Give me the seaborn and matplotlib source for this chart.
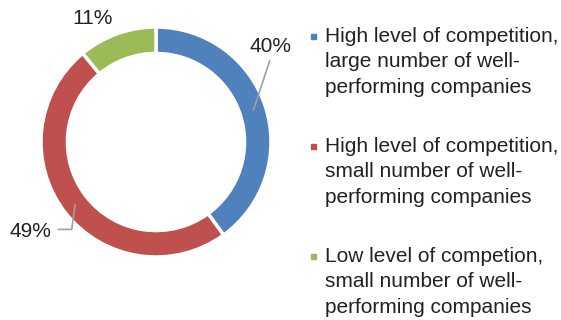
import numpy as np
import matplotlib
matplotlib.use("Agg")
import matplotlib.pyplot as plt
import seaborn as sns

# -------------------------------------------------------------------
# Data
# -------------------------------------------------------------------
categories = [
    "High level of competition,\nlarge number of well-\nperforming companies",
    "High level of competition,\nsmall number of well-\nperforming companies",
    "Low level of competion,\nsmall number of well-\nperforming companies",
]
shares = [40, 49, 11]
colors = ["#4F81BD", "#C0504D", "#9BBB59"]

sns.set_theme(style="white")
plt.rcParams['font.family'] = ['Liberation Sans', 'DejaVu Sans']

fig = plt.figure(figsize=(5.61, 3.2), dpi=100)
ax = fig.add_axes([41 / 561, 63 / 320, 230 / 561, 230 / 320])

wedges, _ = ax.pie(shares, colors=colors, startangle=90, counterclock=False,
                   radius=1.0, wedgeprops=dict(width=0.23, edgecolor="white", linewidth=2.5))
ax.set_xlim(-1, 1)
ax.set_ylim(-1, 1)
ax.set_aspect("equal")
ax.axis("off")

# label positions (relative to centre, in radius units) and leader lines
label_pos = [(1.0, 0.83), (-1.09, -0.78), (-0.55, 1.07)]
leaders = [True, True, False]
for w, val, (lx, ly), lead in zip(wedges, shares, label_pos, leaders):
    mid = np.deg2rad((w.theta1 + w.theta2) / 2)
    px, py = 0.89 * np.cos(mid), 0.89 * np.sin(mid)
    ax.text(lx, ly, f"{val}%", ha="center", va="center", fontsize=15, color="#222222")
    if lead:
        if lx > 0:
            ax.plot([px, lx - 0.01], [py, ly - 0.12], color="#A0A0A0", lw=1.2, clip_on=False)
        else:
            ax.plot([px, px - 0.03, lx + 0.24], [py, ly + 0.02, ly + 0.02],
                    color="#A0A0A0", lw=1.2, clip_on=False)

# legend drawn by hand so the marker sits on the first line
y0 = 1 - 36 / 320
step = 110 / 320
for i, (lab, c) in enumerate(zip(categories, colors)):
    y = y0 - i * step
    fig.patches.append(plt.Rectangle((311 / 561, y - 2.5 / 320), 5 / 561, 5 / 320,
                                     transform=fig.transFigure, color=c))
    fig.text(325 / 561, y + 9 / 320, lab, ha="left", va="top", fontsize=15,
             color="#222222", linespacing=1.42)

fig.savefig("out.png", dpi=100)
